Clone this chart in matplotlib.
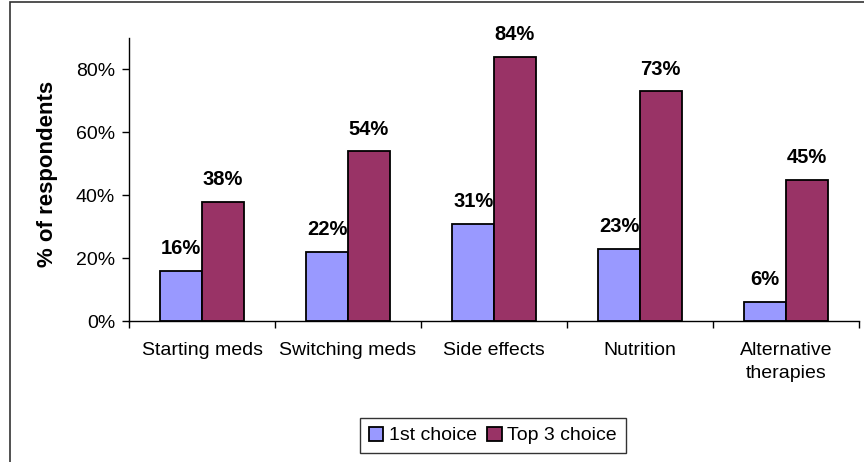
import matplotlib.pyplot as plt
from matplotlib.patches import Rectangle
from matplotlib.ticker import FuncFormatter

plt.rcParams['font.family'] = ['Liberation Sans', 'DejaVu Sans']

categories = ['Starting meds', 'Switching meds', 'Side effects', 'Nutrition',
              'Alternative\ntherapies']
first_choice = [0.16, 0.22, 0.31, 0.23, 0.06]
top3_choice = [0.38, 0.54, 0.84, 0.73, 0.45]

fig = plt.figure(figsize=(8.64, 4.62), dpi=100)
ax = fig.add_axes([129 / 864, 1 - 321 / 462, 730 / 864, 283 / 462])

# outer chart border (runs off the right and bottom edges)
fig.patches.append(Rectangle((10 / 864, -0.05), 1.1, 1 - 2 / 462 + 0.05,
                             transform=fig.transFigure, fill=False,
                             edgecolor='#333333', linewidth=1.2))

x = list(range(len(categories)))
w = 0.285
b1 = ax.bar([i - w / 2 for i in x], first_choice, w, color='#9999FF',
            edgecolor='black', linewidth=1.3, label='1st choice')
b2 = ax.bar([i + w / 2 for i in x], top3_choice, w, color='#993366',
            edgecolor='black', linewidth=1.3, label='Top 3 choice')

for bars, vals in ((b1, first_choice), (b2, top3_choice)):
    for r, v in zip(bars, vals):
        ax.annotate(f'{v:.0%}', (r.get_x() + r.get_width() / 2, v),
                    xytext=(0, 12), textcoords='offset points',
                    ha='center', va='baseline', fontsize=14.5,
                    fontweight='bold')

ax.set_xlim(-0.5, 4.5)
ax.set_ylim(0, 0.9)
ax.set_yticks([0, 0.2, 0.4, 0.6, 0.8])
ax.yaxis.set_major_formatter(FuncFormatter(lambda v, p: f'{v:.0%}'))
ax.tick_params(axis='y', direction='out', length=5, width=1, pad=5,
               labelsize=14)

ax.set_xticks(x)
ax.set_xticklabels(categories, fontsize=14, linespacing=1.45)
ax.set_xticks([i - 0.5 for i in range(len(categories) + 1)], minor=True)
ax.tick_params(axis='x', which='major', length=0, pad=15)
ax.tick_params(axis='x', which='minor', direction='out', length=5, width=1)

for s in ('top', 'right'):
    ax.spines[s].set_visible(False)
for s in ('left', 'bottom'):
    ax.spines[s].set_linewidth(1)

ax.set_ylabel('% of respondents', fontsize=16, fontweight='bold')
ax.yaxis.set_label_coords(-0.097, 0.52)

leg = fig.legend(loc='center', bbox_to_anchor=(493 / 864, 1 - 435.5 / 462),
                 ncol=2, fontsize=14, frameon=True, fancybox=False,
                 handlelength=0.75, handleheight=0.75, handletextpad=0.3,
                 columnspacing=0.5, borderpad=0.45, borderaxespad=0)
leg.get_frame().set_edgecolor('black')
leg.get_frame().set_linewidth(1)

fig.savefig('out.png', dpi=100)
